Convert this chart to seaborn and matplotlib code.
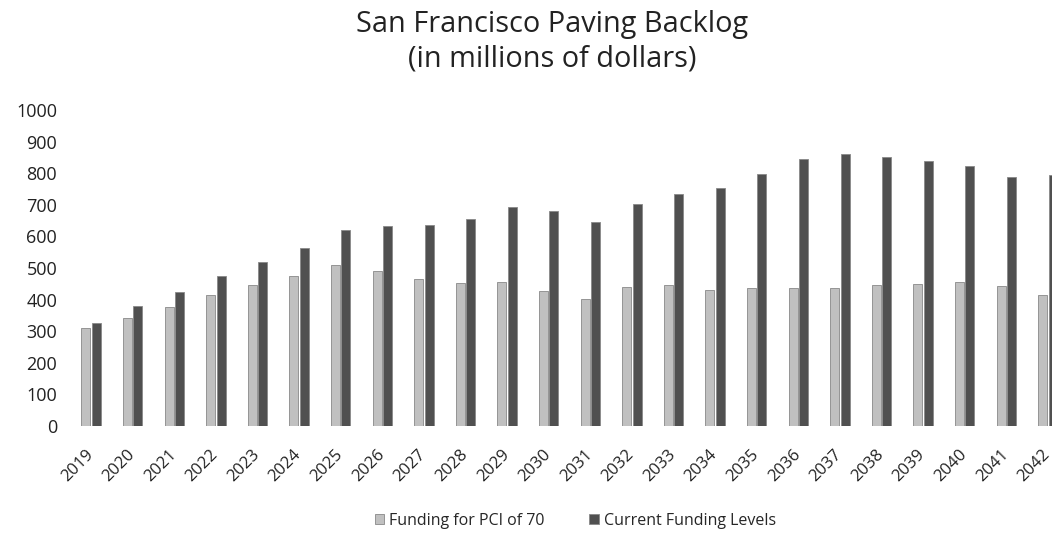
import pandas as pd
import matplotlib
matplotlib.use("Agg")
import matplotlib.pyplot as plt
import matplotlib.transforms as mtransforms
import seaborn as sns

# values (millions of dollars)
years = [str(y) for y in range(2019, 2043)]
pci70 = [309, 343, 376, 414, 446, 473, 509, 490, 464, 451, 457, 427,
         402, 441, 446, 430, 436, 436, 438, 446, 448, 455, 444, 415]
current = [327, 378, 423, 473, 520, 562, 620, 633, 636, 655, 692, 680,
           647, 701, 733, 754, 797, 845, 861, 852, 840, 824, 789, 794]
series_names = ["Funding for PCI of 70", "Current Funding Levels"]

df = pd.DataFrame({
    "year": years * 2,
    "value": pci70 + current,
    "series": [series_names[0]] * len(years) + [series_names[1]] * len(years),
})

sns.set_theme(style="white")
plt.rcParams["font.family"] = ["Open Sans", "DejaVu Sans"]

fig = plt.figure(figsize=(10.52, 5.37), dpi=100)
ax = fig.add_axes([0.057, 0.207, 0.943, 0.588])

sns.barplot(data=df, x="year", y="value", hue="series", ax=ax,
            palette=["#c0c0c0", "#505050"], width=0.5, gap=0.14,
            edgecolor="#888888", linewidth=0.6)

ax.set_xlim(-0.75, 23.1)
ax.set_ylim(0, 1000)
ax.set_yticks(range(0, 1001, 100))
ax.tick_params(axis="y", labelsize=13, pad=2, length=0, colors="#222222")
ax.tick_params(axis="x", labelsize=12, length=0, pad=15, colors="#222222")
shift = mtransforms.ScaledTranslation(-6 / 100, 0, fig.dpi_scale_trans)
for lbl in ax.get_xticklabels():
    lbl.set_rotation(45)
    lbl.set_ha("right")
    lbl.set_rotation_mode("anchor")
    lbl.set_transform(lbl.get_transform() + shift)
ax.set_xlabel("")
ax.set_ylabel("")
for s in ax.spines.values():
    s.set_visible(False)

ax.legend_.remove()
handles, labels = ax.get_legend_handles_labels()
fig.legend(handles, labels, loc="center", bbox_to_anchor=(0.547, 0.03),
           ncol=2, frameon=False, fontsize=11.5, handlelength=0.6,
           handleheight=0.6, columnspacing=2.8, handletextpad=0.3)

fig.suptitle("San Francisco Paving Backlog\n(in millions of dollars)",
             x=0.525, y=0.982, fontsize=20.8, color="#222222", linespacing=1.25)

fig.savefig("out.png", dpi=100)
